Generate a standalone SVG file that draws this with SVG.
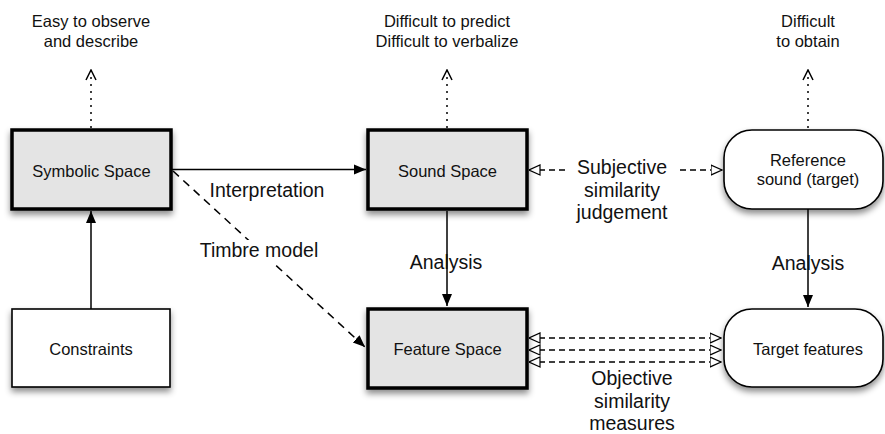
<svg xmlns="http://www.w3.org/2000/svg" width="885" height="434" viewBox="0 0 885 434">
<defs>
  <filter id="sh" x="-20%" y="-20%" width="140%" height="150%">
    <feDropShadow dx="0" dy="4" stdDeviation="3" flood-color="#000" flood-opacity="0.45"/>
  </filter>
  <marker id="filled" viewBox="0 0 12 12" refX="12" refY="6" markerWidth="12" markerHeight="12" markerUnits="userSpaceOnUse" orient="auto">
    <path d="M0,1 L12,6 L0,11 Z" fill="#000"/>
  </marker>
  <marker id="open" viewBox="0 0 12 12" refX="11.5" refY="6" markerWidth="12" markerHeight="12" markerUnits="userSpaceOnUse" orient="auto-start-reverse">
    <path d="M0.5,1 L11.5,6 L0.5,11 Z" fill="#fff" stroke="#000" stroke-width="1.2"/>
  </marker>
  <marker id="stick" viewBox="0 0 12 12" refX="11" refY="6" markerWidth="12" markerHeight="12" markerUnits="userSpaceOnUse" orient="auto">
    <path d="M1,1 L11,6 L1,11" fill="none" stroke="#000" stroke-width="1.5"/>
  </marker>
</defs>
<style>
  text { font-family: "Liberation Sans", Arial, Helvetica, sans-serif; fill: #111; text-anchor: middle; }
  .nt { font-size: 16.5px; }
  .lb { font-size: 19.5px; }
  .thick { fill: #e4e4e4; stroke: #000; stroke-width: 3.5; }
  .thin { fill: #fff; stroke: #000; stroke-width: 1.6; }
  .solid { fill: none; stroke: #000; stroke-width: 1.5; }
  .dash { fill: none; stroke: #000; stroke-width: 1.5; stroke-dasharray: 8 6; }
  .dash2 { fill: none; stroke: #000; stroke-width: 1.5; stroke-dasharray: 6 4; }
  .dot { fill: none; stroke: #000; stroke-width: 1.5; stroke-dasharray: 2 5; }
</style>

<g id="top-labels">
  <text class="nt" x="91" y="27">Easy to observe</text>
  <text class="nt" x="91" y="47">and describe</text>
  <text class="nt" x="447" y="27">Difficult to predict</text>
  <text class="nt" x="447" y="47">Difficult to verbalize</text>
  <text class="nt" x="808" y="27">Difficult</text>
  <text class="nt" x="808" y="47">to obtain</text>
</g>

<g id="connectors">
  <line class="dot" x1="91" y1="128" x2="91" y2="70" marker-end="url(#stick)"/>
  <line class="dot" x1="447" y1="128" x2="447" y2="70" marker-end="url(#stick)"/>
  <line class="dot" x1="808" y1="128" x2="808" y2="70" marker-end="url(#stick)"/>
  <line class="solid" x1="172" y1="169.5" x2="366" y2="169.5" marker-end="url(#filled)"/>
  <line class="solid" x1="91" y1="309" x2="91" y2="211" marker-end="url(#filled)"/>
  <line class="dash" x1="173" y1="171" x2="365" y2="347" marker-end="url(#filled)"/>
  <rect x="240" y="240" width="42" height="23" fill="#fff"/>
  <line class="solid" x1="447" y1="211" x2="447" y2="306" marker-end="url(#filled)"/>
  <line class="solid" x1="808" y1="209" x2="808" y2="307" marker-end="url(#filled)"/>
  <line class="dash2" x1="565" y1="170" x2="529" y2="170" marker-end="url(#open)"/>
  <line class="dash2" x1="680" y1="170" x2="722" y2="170" marker-end="url(#open)"/>
  <line class="dash2" x1="529" y1="338" x2="721" y2="338" marker-start="url(#open)" marker-end="url(#open)"/>
  <line class="dash2" x1="529" y1="350" x2="721" y2="350" marker-start="url(#open)" marker-end="url(#open)"/>
  <line class="dash2" x1="529" y1="362" x2="721" y2="362" marker-start="url(#open)" marker-end="url(#open)"/>
  <text class="lb" x="267" y="197">Interpretation</text>
  <text class="lb" x="259" y="257">Timbre model</text>
  <text class="lb" x="446" y="269">Analysis</text>
  <text class="lb" x="808" y="270">Analysis</text>
  <text class="lb" x="622" y="174">Subjective</text>
  <text class="lb" x="622" y="197">similarity</text>
  <text class="lb" x="622" y="219">judgement</text>
  <text class="lb" x="632" y="385">Objective</text>
  <text class="lb" x="632" y="407.5">similarity</text>
  <text class="lb" x="632" y="429.5">measures</text>
</g>

<g id="symbolic-space">
  <rect class="thick" x="12" y="130" width="159" height="79" filter="url(#sh)"/>
  <text class="nt" x="91.5" y="177">Symbolic Space</text>
</g>
<g id="sound-space">
  <rect class="thick" x="368" y="130" width="159" height="79" filter="url(#sh)"/>
  <text class="nt" x="447.5" y="177">Sound Space</text>
</g>
<g id="reference-sound">
  <rect class="thin" x="724" y="130" width="159" height="79" rx="28" ry="28" filter="url(#sh)"/>
  <text class="nt" x="808" y="166">Reference</text>
  <text class="nt" x="808" y="185">sound (target)</text>
</g>
<g id="constraints">
  <rect class="thin" x="12" y="309" width="158" height="78" filter="url(#sh)"/>
  <text class="nt" x="91" y="355">Constraints</text>
</g>
<g id="feature-space">
  <rect class="thick" x="368" y="309" width="159" height="79" filter="url(#sh)"/>
  <text class="nt" x="447.5" y="355">Feature Space</text>
</g>
<g id="target-features">
  <rect class="thin" x="724" y="309" width="159" height="78" rx="28" ry="28" filter="url(#sh)"/>
  <text class="nt" x="808" y="355">Target features</text>
</g>
</svg>
